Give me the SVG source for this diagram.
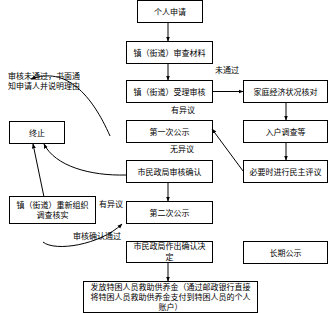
<svg xmlns="http://www.w3.org/2000/svg" width="329" height="313" viewBox="0 0 329 313">
<style>
rect{fill:#fff;stroke:#000;stroke-width:1}
text{font-family:"Noto Sans CJK SC","Noto Sans",sans-serif;font-size:8px;fill:#000}
.c{text-anchor:middle}
.ln{fill:none;stroke:#000;stroke-width:1}
</style>
<defs>
<marker id="ah" viewBox="0 0 10 10" refX="9" refY="5" markerWidth="5" markerHeight="5" orient="auto">
<path d="M0,1 L10,5 L0,9 z" fill="#000"/>
</marker>
</defs>
<rect x="0" y="0" width="329" height="313" style="fill:#fff;stroke:none"/>
<g id="n1"><rect x="137.5" y="0.5" width="65" height="22"/><text class="c" x="170" y="14.5">个人申请</text></g>
<g id="n2"><rect x="126.5" y="41.5" width="86" height="22"/><text class="c" x="169.5" y="55.5">镇（街道）审查材料</text></g>
<g id="n3"><rect x="126.5" y="80.5" width="86" height="22"/><text class="c" x="169.5" y="94.5">镇（街道）受理审核</text></g>
<g id="n4"><rect x="243.5" y="80.5" width="84" height="22"/><text class="c" x="285.5" y="94.5">家庭经济状况核对</text></g>
<g id="n5"><rect x="126.5" y="120.5" width="86" height="22"/><text class="c" x="169.5" y="134.5">第一次公示</text></g>
<g id="n6"><rect x="243.5" y="120.5" width="84" height="22"/><text class="c" x="285.5" y="134.5">入户调查等</text></g>
<g id="n7"><rect x="9.5" y="121.5" width="55" height="22"/><text class="c" x="37" y="135.5">终止</text></g>
<g id="n8"><rect x="126.5" y="160.5" width="86" height="22"/><text class="c" x="169.5" y="174.5">市民政局审核确认</text></g>
<g id="n9"><rect x="243.5" y="160.5" width="84" height="22"/><text class="c" x="285.5" y="174.5">必要时进行民主评议</text></g>
<g id="n10"><rect x="9.5" y="196.5" width="86" height="27"/><text class="c" x="52.5" y="208">镇（街道）重新组织</text><text class="c" x="52.5" y="218">调查核实</text></g>
<g id="n11"><rect x="126.5" y="201.5" width="86" height="22"/><text class="c" x="169.5" y="215.5">第二次公示</text></g>
<g id="n12"><rect x="126.5" y="241.5" width="86" height="21"/><text class="c" x="169.5" y="249">市民政局作出确认决</text><text class="c" x="169.5" y="260">定</text></g>
<g id="n13"><rect x="243.5" y="241.5" width="84" height="22"/><text class="c" x="285.5" y="255.5">长期公示</text></g>
<g id="n14"><rect x="83.5" y="281.5" width="174" height="31"/><text class="c" x="170.5" y="290">发放特困人员救助供养金（通过邮政银行直接</text><text class="c" x="170.5" y="300">将特困人员救助供养金支付到特困人员的个人</text><text class="c" x="170.5" y="310">账户）</text></g>
<g id="labels">
<text x="8" y="79">审核未通过，书面通</text>
<text x="8" y="89">知申请人并说明理由</text>
<text x="215" y="73">未通过</text>
<text class="c" x="183" y="113">有异议</text>
<text class="c" x="182" y="152">无异议</text>
<text class="c" x="111" y="207">有异议</text>
<text x="73" y="239">审核确认通过</text>
</g>
<g id="connectors">
<line class="ln" x1="168" y1="22" x2="168" y2="41" marker-end="url(#ah)"/>
<line class="ln" x1="168" y1="63" x2="168" y2="80" marker-end="url(#ah)"/>
<line class="ln" x1="213" y1="91.5" x2="243" y2="91.5" marker-end="url(#ah)"/>
<line class="ln" x1="286" y1="103" x2="286" y2="120" marker-end="url(#ah)"/>
<line class="ln" x1="286" y1="143" x2="286" y2="160" marker-end="url(#ah)"/>
<line class="ln" x1="243" y1="171" x2="212" y2="129" marker-end="url(#ah)"/>
<line class="ln" x1="168" y1="183" x2="168" y2="201" marker-end="url(#ah)"/>
<line class="ln" x1="168" y1="263" x2="168" y2="281" marker-end="url(#ah)"/>
<path class="ln" d="M110,136 C92,95 66,66 31,79" marker-end="url(#ah)"/>
<path class="ln" d="M126,175 C90,176 55,166 44,144" marker-end="url(#ah)"/>
<line class="ln" x1="44" y1="197" x2="33" y2="144" marker-end="url(#ah)"/>
<path class="ln" d="M43,242 C55,252 100,245 122,224" marker-end="url(#ah)"/>
</g>
</svg>
